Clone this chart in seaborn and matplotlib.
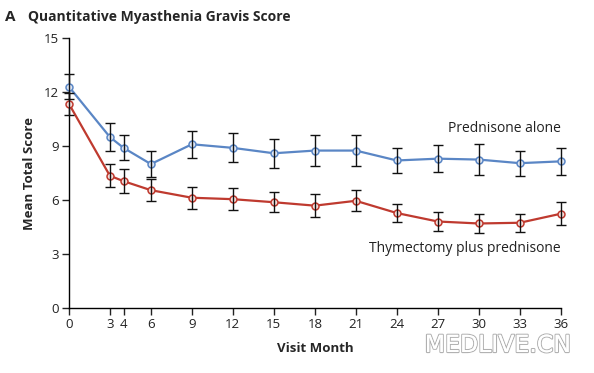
import matplotlib
matplotlib.use("Agg")
import matplotlib.pyplot as plt
import matplotlib.patheffects as pe
import numpy as np
import pandas as pd
import seaborn as sns

# ---- data ----
months = [0, 3, 4, 6, 9, 12, 15, 18, 21, 24, 27, 30, 33, 36]
pred_alone = [12.3, 9.5, 8.9, 8.0, 9.1, 8.9, 8.6, 8.75, 8.75, 8.2, 8.3, 8.25, 8.05, 8.15]
pred_alone_err = [0.7, 0.8, 0.7, 0.7, 0.75, 0.8, 0.8, 0.85, 0.85, 0.7, 0.75, 0.85, 0.7, 0.75]
thym_plus = [11.35, 7.35, 7.05, 6.55, 6.13, 6.05, 5.88, 5.69, 5.96, 5.28, 4.81, 4.7, 4.74, 5.24]
thym_plus_err = [0.6, 0.65, 0.65, 0.6, 0.62, 0.62, 0.57, 0.63, 0.58, 0.5, 0.5, 0.53, 0.5, 0.64]
group_names = ["Prednisone alone", "Thymectomy plus prednisone"]
y_ticks = [0, 3, 6, 9, 12, 15]

BLUE = "#5a86c5"
RED = "#bf3a2f"
FILL = {BLUE: "#dfe7f5", RED: "#f5dedb"}

df = pd.DataFrame({
    "month": months * 2,
    "score": pred_alone + thym_plus,
    "err": pred_alone_err + thym_plus_err,
    "group": [group_names[0]] * len(months) + [group_names[1]] * len(months),
})

sns.set_style("ticks")
plt.rcParams["font.family"] = ["Open Sans", "DejaVu Sans"]

fig = plt.figure(figsize=(5.94, 3.73), dpi=100)
ax = fig.add_axes([0.116, 0.174, 0.828, 0.724])

# lines with markers via seaborn
sns.lineplot(data=df, x="month", y="score", hue="group",
             palette={group_names[0]: BLUE, group_names[1]: RED},
             marker="o", markersize=5, linewidth=1.6, legend=False,
             ax=ax, zorder=3, clip_on=False)
for line, col in zip(list(ax.lines), [BLUE, RED]):
    line.set_markeredgecolor(col)
    line.set_markerfacecolor(FILL[col])
    line.set_markeredgewidth(1.1)

# error bars (black, capped), drawn through the markers
for name in group_names:
    sub = df[df["group"] == name]
    ax.errorbar(sub["month"], sub["score"], yerr=sub["err"], fmt="none",
                ecolor="#111111", elinewidth=1.0, capsize=3.5, capthick=1.0,
                clip_on=False, zorder=4)

ax.set_xlim(0, 36)
ax.set_ylim(0, 15)
ax.set_xticks(months)
ax.set_yticks(y_ticks)
ax.tick_params(axis="both", direction="out", length=5, width=1, labelsize=9.5,
               colors="#222222", pad=2)
sns.despine(ax=ax)
for s in ["left", "bottom"]:
    ax.spines[s].set_linewidth(1.0)
    ax.spines[s].set_color("black")

ax.set_xlabel("Visit Month", fontsize=9.5, fontweight="bold", labelpad=8)
ax.set_ylabel("Mean Total Score", fontsize=9.5, fontweight="bold", labelpad=6)

ax.text(36, 9.95, group_names[0], ha="right", va="center", fontsize=10, color="#222222")
ax.text(36, 3.33, group_names[1], ha="right", va="center", fontsize=10, color="#222222")

fig.text(0.008, 0.955, "A", fontsize=11, fontweight="bold", ha="left", va="center")
fig.text(0.047, 0.955, "Quantitative Myasthenia Gravis Score", fontsize=10,
         fontweight="bold", ha="left", va="center")

wm = fig.text(0.962, 0.075, "MEDLIVE.CN", fontsize=17, ha="right", va="center",
              color="white", family=["DejaVu Sans"])
wm.set_path_effects([pe.withStroke(linewidth=1.6, foreground="#b0b0b0"), pe.Normal()])

fig.savefig("out.png", dpi=100)
